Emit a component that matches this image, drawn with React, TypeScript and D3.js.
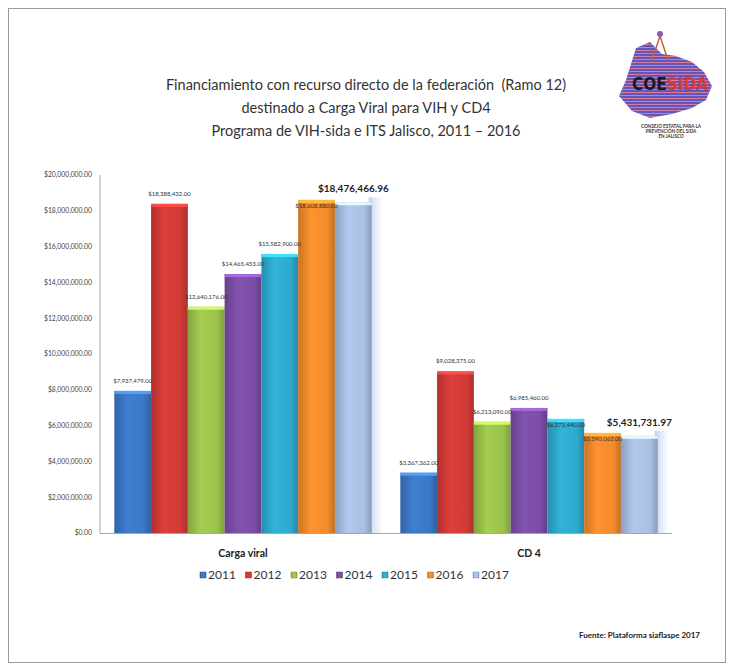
import * as d3 from 'd3';

// values (pesos)
const categories = ['Carga viral', 'CD 4'];
const years = ['2011', '2012', '2013', '2014', '2015', '2016', '2017'];
const cargaViral = [7937479, 18388432, 12640176, 14465453, 15582900, 18608880, 18476466.96];
const cd4 = [3367362, 9028375, 6213090, 6985460, 6373440, 5590062, 5431731.97];
const yTicks = [0, 2e6, 4e6, 6e6, 8e6, 10e6, 12e6, 14e6, 16e6, 18e6, 20e6];
const titleLines = [
  'Financiamiento con recurso directo de la federación \u00a0(Ramo 12)',
  'destinado a Carga Viral para VIH y CD4',
  'Programa de VIH-sida e ITS Jalisco, 2011 – 2016',
];

const COLORS = ['#3b78c6', '#d23b37', '#9bc34c', '#7b4ea6', '#2eaacf', '#f28b2c', '#a9bfe3'];
// labels Excel pushed inside the bar top
const INSIDE = new Set(['0-5', '1-4', '1-5']);

const W = 734;
const H = 671;
const PLOT = { left: 100, right: 672, top: 175, bottom: 533 };
const FONT = 'Lato, "Open Sans", sans-serif';

export default function App() {
  const series = [cargaViral, cd4];
  const fmt = d3.format('$,.2f');

  const x0 = d3.scaleBand().domain(categories).range([PLOT.left, PLOT.right])
    .paddingInner(0.1).paddingOuter(0.05);
  const x1 = d3.scaleBand().domain(years).range([0, x0.bandwidth()]);
  const y = d3.scaleLinear().domain([0, 20e6]).range([PLOT.bottom, PLOT.top]);
  const bw = x1.bandwidth();

  const legendX = d3.scalePoint().domain(years).range([200, 473]);

  return (
    <svg width={W} height={H} style={{ position: 'absolute', left: 0, top: 0, background: '#fff' }}
      fontFamily={FONT}>
      <defs>
        {COLORS.map((c, i) => {
          const col = d3.color(c)!;
          return (
            <linearGradient key={i} id={`g${i}`} x1="0" x2="1" y1="0" y2="0">
              <stop offset="0%" stopColor={col.darker(0.5).formatHex()} />
              <stop offset="35%" stopColor={col.brighter(0.15).formatHex()} />
              <stop offset="80%" stopColor={c} />
              <stop offset="100%" stopColor={col.darker(0.6).formatHex()} />
            </linearGradient>
          );
        })}
        <linearGradient id="glow" x1="0" x2="1" y1="0" y2="0">
          <stop offset="0%" stopColor="#b9c9ea" stopOpacity={0.9} />
          <stop offset="100%" stopColor="#dfe7f7" stopOpacity={0.2} />
        </linearGradient>
        <pattern id="stripes" width="4" height="3" patternUnits="userSpaceOnUse">
          <rect width="4" height="3" fill="#6257b8" />
          <rect y="2" width="4" height="1" fill="#d77aa0" />
        </pattern>
      </defs>

      <rect x={8.5} y={8.5} width={717} height={654} fill="none" stroke="#9a9a9a" strokeWidth={1} />

      {/* title */}
      {titleLines.map((t, i) => (
        <text key={i} x={366} y={90 + i * 23} textAnchor="middle" fontSize={14.5} fill="#333">{t}</text>
      ))}

      {/* logo */}
      <g>
        <polygon points="636,48 650,42 662,54 676,56 692,62 704,72 712,86 706,100 692,108 672,114 650,118 632,111 619,96 626,80 631,64"
          fill="url(#stripes)" />
        <path d="M652,60 L660,36 L668,60" fill="none" stroke="#c9612c" strokeWidth={1.5} />
        <circle cx={660} cy={34} r={3} fill="#8a5ab8" />
        <text x={632} y={90} fontSize={18} fontWeight={900} textLength={76} lengthAdjust="spacingAndGlyphs"
          fontFamily='"DejaVu Sans Condensed", "Liberation Sans Narrow", sans-serif'>
          <tspan fill="#1a1a1a">COE</tspan><tspan fill="#e0362f">SIDA</tspan>
        </text>
        {['CONSEJO ESTATAL PARA LA', 'PREVENCIÓN DEL SIDA', 'EN JALISCO'].map((t, i) => (
          <text key={t} x={671} y={128 + i * 5} textAnchor="middle" fontSize={4.6} fontWeight={700} fill="#333">{t}</text>
        ))}
      </g>

      {/* y axis */}
      {yTicks.map((t) => (
        <text key={t} x={92} y={y(t)} dy="0.35em" textAnchor="end" fontSize={6.8} fill="#444">{fmt(t)}</text>
      ))}
      <line x1={PLOT.left} x2={PLOT.left} y1={PLOT.top} y2={PLOT.bottom} stroke="#a6a6a6" />

      {/* bars */}
      {categories.map((cat, ci) => (
        <g key={cat} transform={`translate(${x0(cat)},0)`}>
          {series[ci].map((v, si) => {
            const bx = x1(years[si])!;
            const top = y(v);
            const last = si === years.length - 1;
            return (
              <g key={si}>
                {last && (
                  <rect x={bx + bw - 3} y={top - 5} width={13} height={PLOT.bottom - top + 5} fill="url(#glow)" />
                )}
                <rect x={bx} y={top} width={bw} height={PLOT.bottom - top} fill={`url(#g${si})`} />
                <rect x={bx} y={top} width={bw} height={3}
                  fill={d3.color(COLORS[si])!.brighter(0.9).formatHex()} opacity={0.9} />
              </g>
            );
          })}
        </g>
      ))}
      <line x1={PLOT.left} x2={PLOT.right} y1={PLOT.bottom + 0.5} y2={PLOT.bottom + 0.5} stroke="#a6a6a6" />

      {/* value labels */}
      {categories.map((cat, ci) => series[ci].map((v, si) => {
        const cx = x0(cat)! + x1(years[si])! + bw / 2;
        const top = y(v);
        const last = si === years.length - 1;
        const inside = INSIDE.has(`${ci}-${si}`);
        return (
          <text key={`${ci}-${si}`} x={cx} y={last ? top - 10 : inside ? top + 8 : top - 8}
            textAnchor="middle" fontSize={last ? 10 : 6} fontWeight={last ? 700 : 400}
            fill={last ? '#222' : '#333'}>
            {fmt(v)}
          </text>
        );
      }))}

      {/* category labels */}
      {categories.map((cat) => (
        <text key={cat} x={x0(cat)! + x0.bandwidth() / 2} y={557} textAnchor="middle"
          fontSize={10.5} fontWeight={700} fill="#222">{cat}</text>
      ))}

      {/* legend */}
      {years.map((yr, i) => (
        <g key={yr} transform={`translate(${legendX(yr)},575)`}>
          <rect x={0} y={-3} width={6} height={6} fill={`url(#g${i})`} stroke={d3.color(COLORS[i])!.darker(0.8).formatHex()} strokeWidth={0.5} />
          <text x={8} y={0} dy="0.35em" fontSize={12} fill="#333">{yr}</text>
        </g>
      ))}

      <text x={700} y={638} textAnchor="end" fontSize={8} fontWeight={700} fill="#222">
        Fuente: Plataforma siaflaspe 2017
      </text>
    </svg>
  );
}
